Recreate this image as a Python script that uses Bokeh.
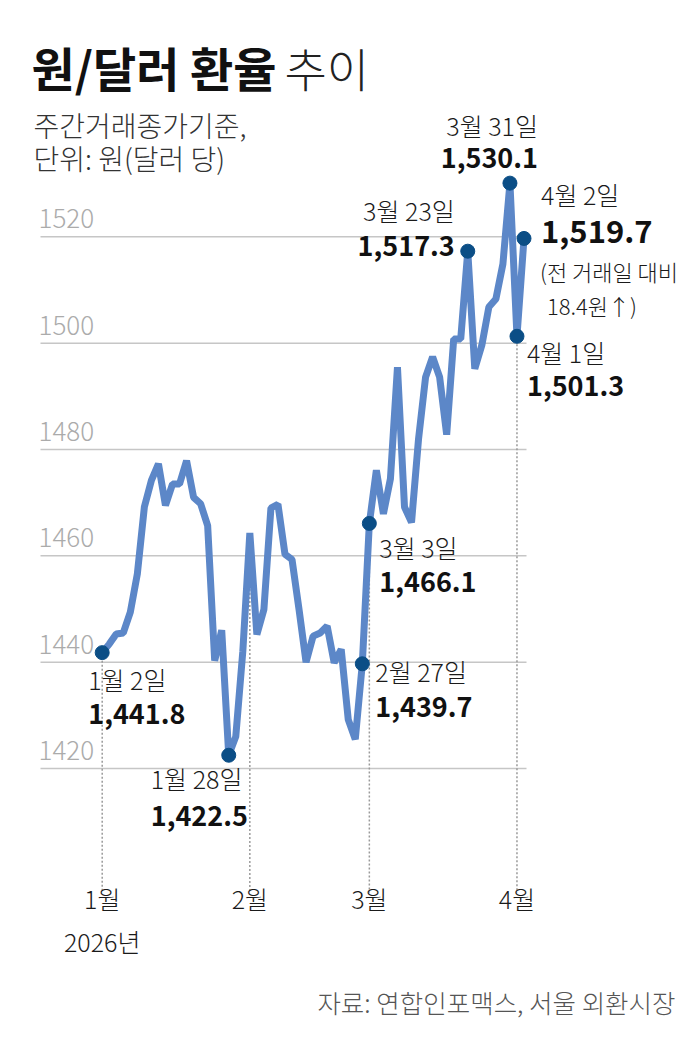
from bokeh.plotting import figure
from bokeh.models import Range1d
from bokeh.core.properties import value
from bokeh.embed import file_html
from bokeh.resources import INLINE

# ---------------- data ----------------
dates = [
    "1월 2일", "1월 5일", "1월 6일", "1월 7일", "1월 8일", "1월 9일",
    "1월 12일", "1월 13일", "1월 14일", "1월 15일", "1월 16일",
    "1월 19일", "1월 20일", "1월 21일", "1월 22일", "1월 23일",
    "1월 26일", "1월 27일", "1월 28일", "1월 29일", "1월 30일",
    "2월 2일", "2월 3일", "2월 4일", "2월 5일", "2월 6일",
    "2월 9일", "2월 10일", "2월 11일", "2월 12일", "2월 13일",
    "2월 19일", "2월 20일",
    "2월 23일", "2월 24일", "2월 25일", "2월 26일", "2월 27일",
    "3월 3일", "3월 4일", "3월 5일", "3월 6일",
    "3월 9일", "3월 10일", "3월 11일", "3월 12일", "3월 13일",
    "3월 16일", "3월 17일", "3월 18일", "3월 19일", "3월 20일",
    "3월 23일", "3월 24일", "3월 25일", "3월 26일", "3월 27일",
    "3월 30일", "3월 31일",
    "4월 1일", "4월 2일",
]
rates = [
    1441.8, 1443.4, 1445.3, 1445.5, 1449.4, 1456.6,
    1469.2, 1474.2, 1477.3, 1469.5, 1473.5,
    1473.5, 1477.9, 1471.0, 1469.8, 1465.7,
    1440.3, 1446.0, 1422.5, 1426.0, 1442.0,
    1464.3, 1445.2, 1449.9, 1469.0, 1469.7,
    1460.3, 1459.3, 1449.9, 1440.0, 1444.9,
    1445.5, 1446.8,
    1439.9, 1442.4, 1429.2, 1425.5, 1439.7,
    1466.1, 1476.1, 1467.9, 1474.5,
    1495.5, 1469.2, 1466.3, 1482.0, 1493.6,
    1497.4, 1493.6, 1482.8, 1500.8, 1500.8,
    1517.3, 1495.2, 1499.6, 1506.8, 1508.3,
    1514.9, 1530.1,
    1501.3, 1519.7,
]
y_ticks = [1420, 1440, 1460, 1480, 1500, 1520]
month_labels = ["1월", "2월", "3월", "4월"]
month_dates = ["1월 2일", "2월 2일", "3월 3일", "4월 1일"]
year_label = "2026년"
highlight_dates = ["1월 2일", "1월 28일", "2월 27일", "3월 3일",
                   "3월 23일", "3월 31일", "4월 1일", "4월 2일"]
change_note = ["(전 거래일 대비", "18.4원↑)"]
title_bold = "원/달러 환율"
title_light = "추이"
subtitle = ["주간거래종가기준,", "단위: 원(달러 당)"]
source_text = "자료: 연합인포맥스, 서울 외환시장"

# ---------------- layout (pixel geometry) ----------------
W, H = 684, 1034
X0_PX, DX_PX = 101.7, 7.03       # x pixel of first trading day, px per trading day
Y0_PX, DY_PX = 661.7, 5.317      # y pixel of 1440, px per won
BASE = 1440

def xs(px):  # pixel -> data x
    return (px - X0_PX) / DX_PX

def ys(py):  # pixel -> data y
    return BASE + (Y0_PX - py) / DY_PX

x_idx = list(range(len(dates)))

p = figure(width=W, height=H, output_backend="svg", toolbar_location=None,
           x_axis_type=None, y_axis_type=None, min_border=0,
           x_range=Range1d(xs(0), xs(W)), y_range=Range1d(ys(H), ys(0)))
p.outline_line_color = None
p.background_fill_color = "white"
p.border_fill_color = "white"
p.xgrid.visible = False
p.ygrid.visible = False

FONT = value("Noto Sans CJK KR")
LIGHT = value("Noto Sans CJK KR Light, Noto Sans CJK KR")

# grid lines
p.segment(x0=[xs(40)] * len(y_ticks), x1=[xs(526)] * len(y_ticks),
          y0=y_ticks, y1=y_ticks, line_color="#c6c6c6", line_width=1.5)
# y tick labels (above grid lines)
p.text(x=[xs(38)] * len(y_ticks), y=y_ticks, text=[str(t) for t in y_ticks],
       text_font=LIGHT, text_font_size="26px", text_color="#ababab",
       text_align="left", text_baseline="middle", y_offset=-18)

# dotted month lines
m_idx = [dates.index(d) for d in month_dates]
p.segment(x0=m_idx, x1=m_idx, y0=[rates[i] for i in m_idx],
          y1=[ys(892)] * len(m_idx), line_color="#9a9a9a",
          line_width=1.5, line_dash="2 2")

# main line
p.line(x_idx, rates, line_color="#5c87c8", line_width=7)

# highlighted points
h_idx = [dates.index(d) for d in highlight_dates]
p.scatter([x_idx[i] for i in h_idx], [rates[i] for i in h_idx], size=14,
          fill_color="#0b4e86", line_color="#0b4e86")

# label offsets (px) relative to each highlighted point: (dx, dy_date, dy_value, align)
offsets = {
    "1월 2일": (-14, 26, 61, "left"),
    "1월 28일": (-78, 23, 61, "left"),
    "2월 27일": (13, 7, 43, "left"),
    "3월 3일": (10, 24, 59, "left"),
    "3월 23일": (-13, -41, -5, "right"),
    "3월 31일": (28, -58, -25, "right"),
    "4월 1일": (10, 16, 50, "left"),
    "4월 2일": (17, -44, -7, "left"),
}
for d in highlight_dates:
    i = dates.index(d)
    dx, dyd, dyv, al = offsets[d]
    big = d == "4월 2일"
    p.text(x=[i], y=[rates[i]], text=[d], x_offset=dx, y_offset=dyd,
           text_font=LIGHT, text_font_size="25px", text_color="#1a1a1a",
           text_align=al, text_baseline="middle")
    p.text(x=[i], y=[rates[i]], text=[f"{rates[i]:,.1f}"], x_offset=dx, y_offset=dyv,
           text_font=FONT, text_font_style="bold",
           text_font_size="31px" if big else "27px", text_color="#111111",
           text_align=al, text_baseline="middle")
    if big:
        p.text(x=[i, i], y=[rates[i], rates[i]], text=change_note,
               x_offset=[dx - 1, dx + 6], y_offset=[33, 67],
               text_font=LIGHT, text_font_size="22px", text_color="#1a1a1a",
               text_align="left", text_baseline="middle")

# month labels
p.text(x=m_idx, y=[ys(897)] * len(m_idx), text=month_labels,
       text_font=LIGHT, text_font_size="25px", text_color="#1a1a1a",
       text_align="center", text_baseline="middle")
p.text(x=[m_idx[0]], y=[ys(940)], text=[year_label],
       text_font=LIGHT, text_font_size="25px", text_color="#1a1a1a",
       text_align="center", text_baseline="middle")

# title and subtitle
p.text(x=[xs(31)], y=[ys(66)], text=[title_bold], text_font=FONT,
       text_font_style="bold", text_font_size="47px", text_color="#111111",
       text_align="left", text_baseline="middle")
p.text(x=[xs(284)], y=[ys(66)], text=[title_light], text_font=LIGHT,
       text_font_size="46px", text_color="#222222",
       text_align="left", text_baseline="middle")
p.text(x=[xs(33), xs(33)], y=[ys(124), ys(157)], text=subtitle, text_font=LIGHT,
       text_font_size="28px", text_color="#333333",
       text_align="left", text_baseline="middle")

# source
p.text(x=[xs(675)], y=[ys(1001)], text=[source_text], text_font=LIGHT,
       text_font_size="25.5px", text_color="#555555",
       text_align="right", text_baseline="middle")

open("out.html", "w").write(file_html(p, INLINE))
